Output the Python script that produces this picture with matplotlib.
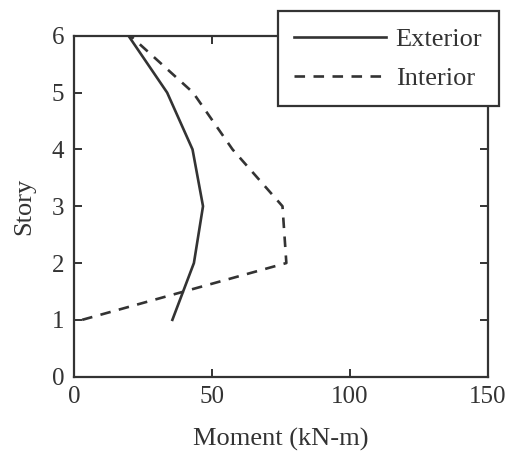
import matplotlib.pyplot as plt

# story moments along the height
stories=[1,2,3,4,5,6]
exterior=[35.7,43.5,46.8,43.0,33.8,19.8]
interior=[3.0,77.0,75.6,57.5,43.2,20.5]

plt.rcParams["font.family"]=["Liberation Serif","DejaVu Serif"]
plt.rcParams["font.size"]=19

ink="#333333"

fig=plt.figure(figsize=(5.06,4.65),dpi=100)
ax=fig.add_axes([0.146,0.19,0.818,0.733])

ax.plot(
    exterior,
    stories,
    color=ink,
    lw=1.9,
    label="Exterior"
)

ax.plot(
    interior,
    stories,
    color=ink,
    lw=1.9,
    dashes=(4.0,3.2),
    label="Interior"
)

ax.set_xlim(0,150)
ax.set_ylim(0,6)
ax.set_xticks([0,50,100,150])
ax.set_yticks([0,1,2,3,4,5,6])

ax.tick_params(
    direction="in",
    length=6,
    width=1.4,
    color=ink,
    labelcolor=ink,
    labelsize=18,
    top=True,
    right=True,
    pad=7
)

for sp in ax.spines.values():
    sp.set_linewidth(1.6)
    sp.set_color(ink)

ax.set_xlabel("Moment (kN-m)",color=ink,labelpad=14)
ax.set_ylabel("Story",color=ink,labelpad=12)

leg=fig.legend(
    loc="upper right",
    bbox_to_anchor=(498.7/506,(465-11)/465),
    frameon=True,
    fancybox=False,
    handlelength=3.5,
    handletextpad=0.35,
    labelspacing=0.6,
    borderpad=0.62,
    borderaxespad=0
)
leg.get_frame().set_edgecolor(ink)
leg.get_frame().set_linewidth(1.6)
leg.get_frame().set_alpha(1)
for t in leg.get_texts():
    t.set_color(ink)

fig.savefig("out.png",dpi=100)
